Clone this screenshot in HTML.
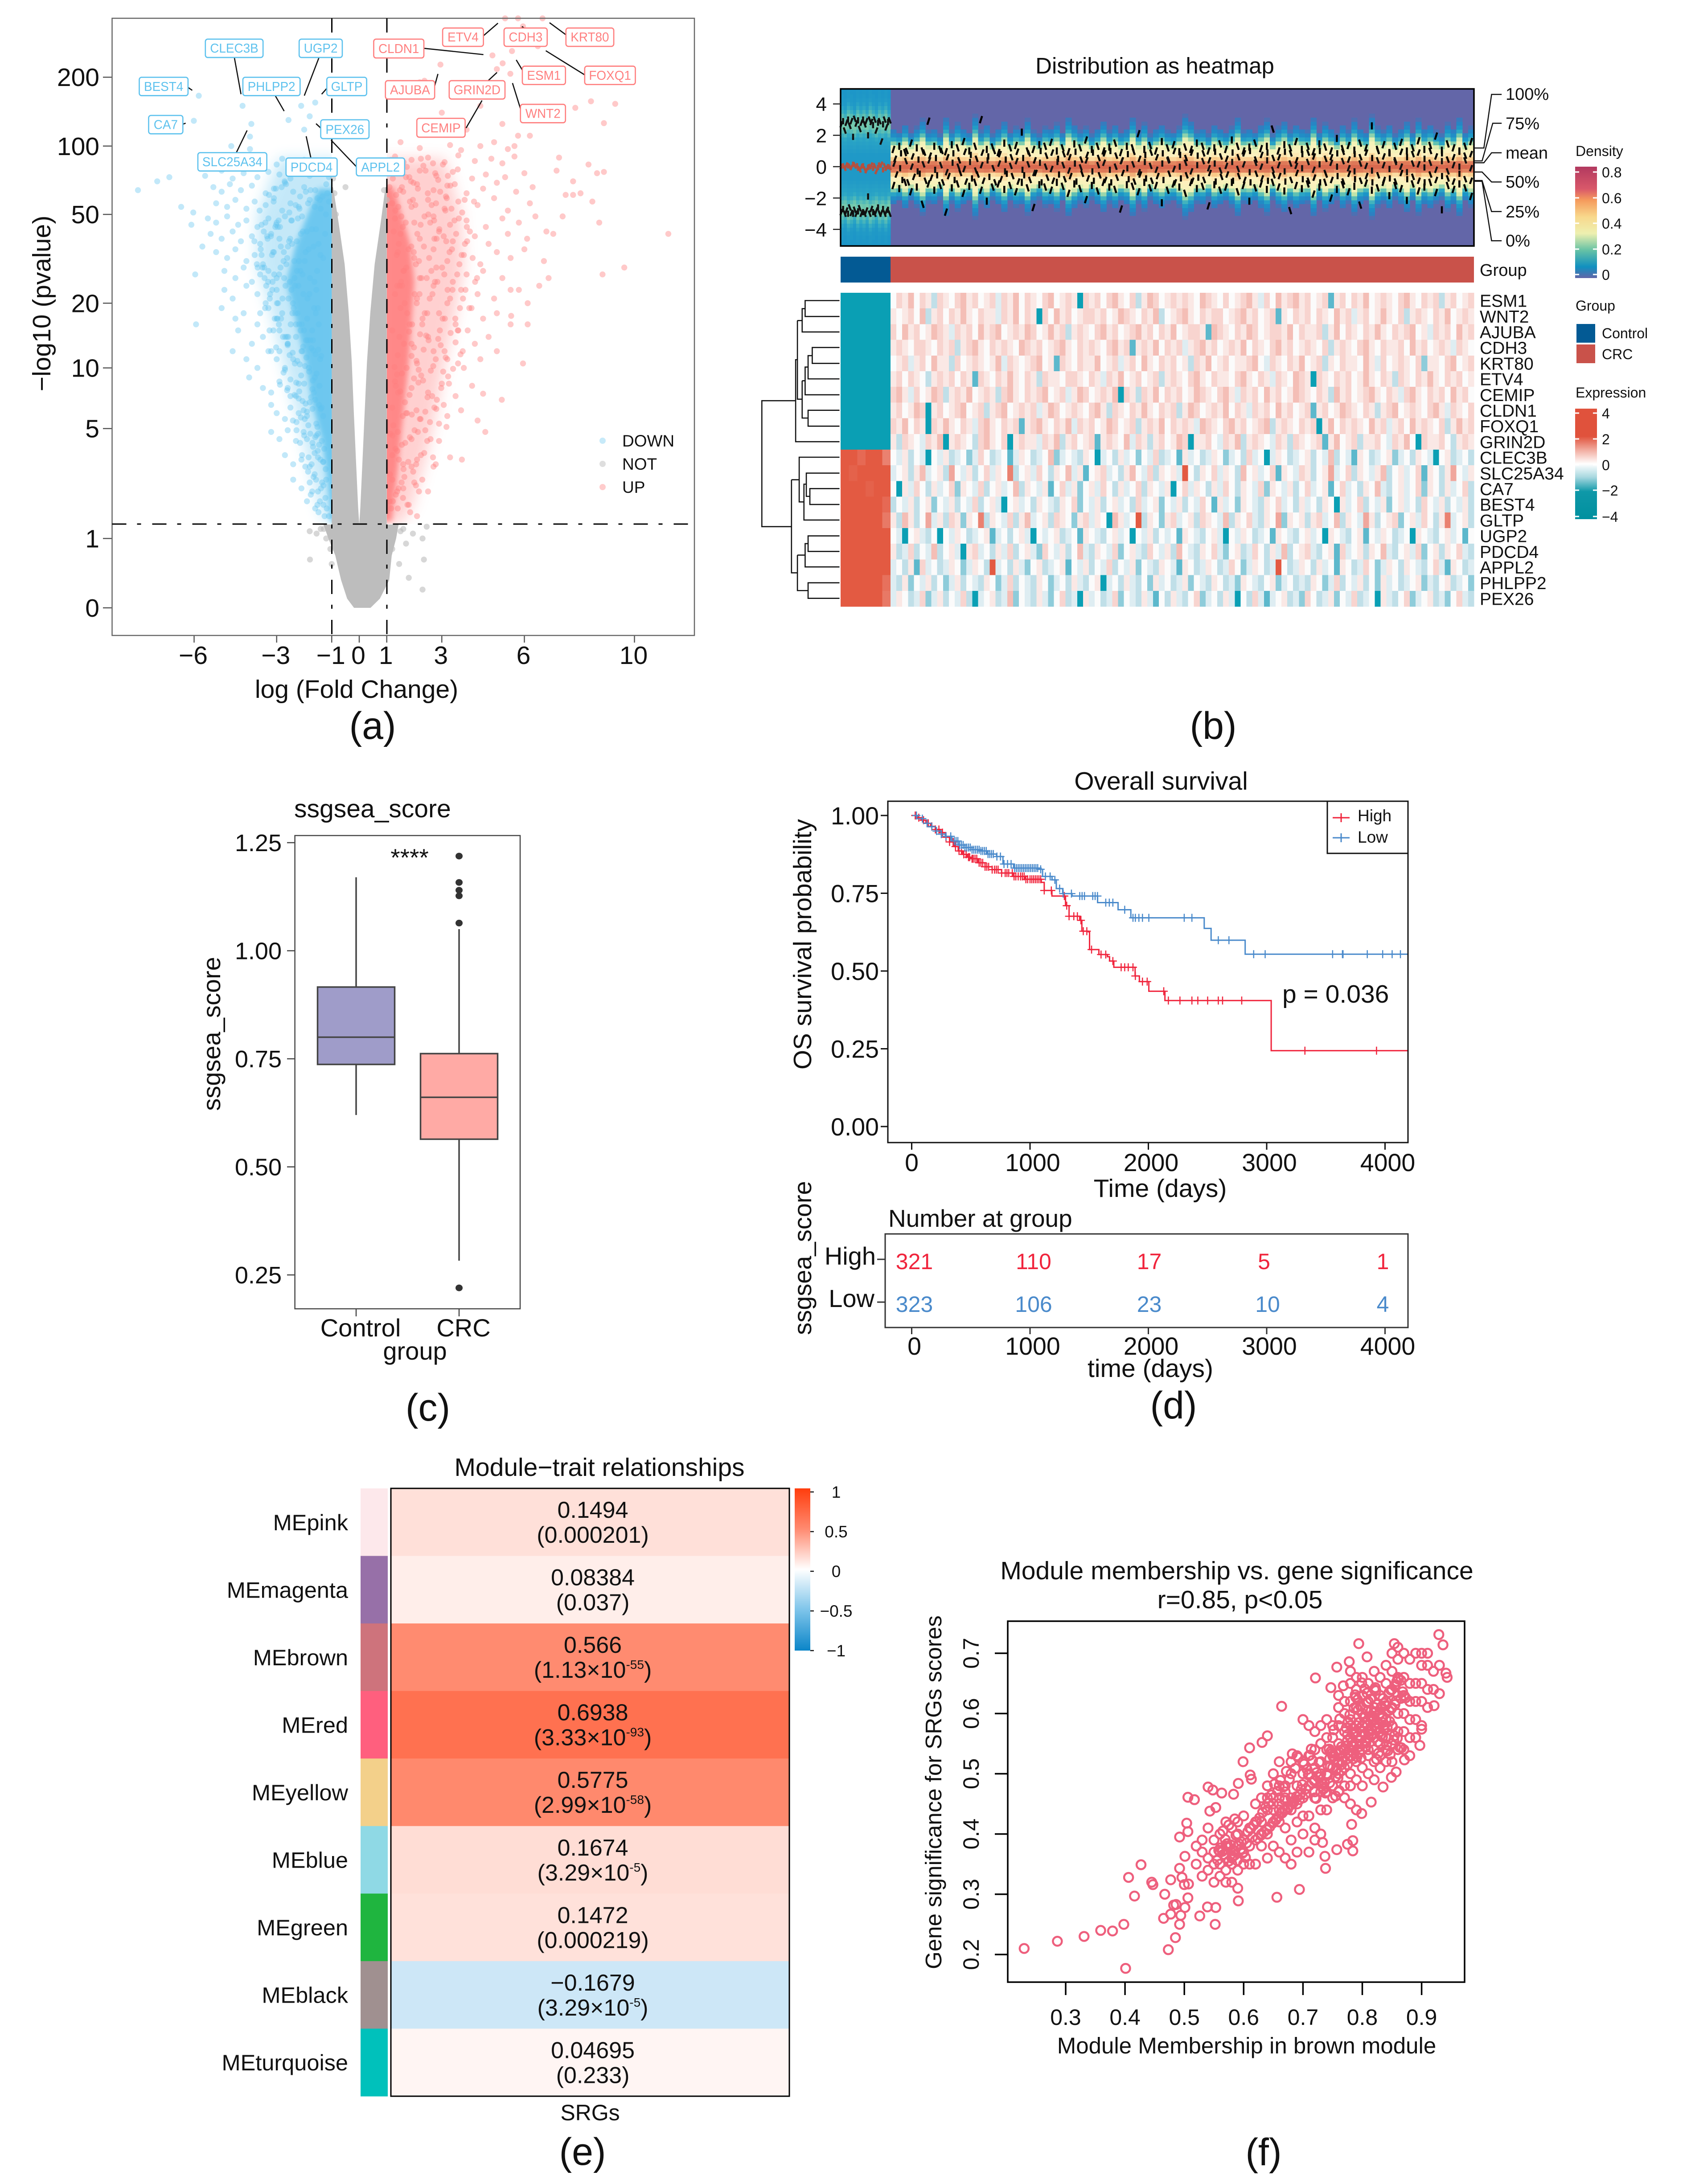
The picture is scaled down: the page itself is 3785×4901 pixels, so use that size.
<!DOCTYPE html>
<html lang="en">
<head>
<meta charset="utf-8">
<title>Multi-panel figure</title>
<style>
html,body{margin:0;padding:0;background:#fff}
svg{display:block}
text{font-family:"Liberation Sans",Arial,sans-serif;fill:#111}
.nss{vector-effect:non-scaling-stroke}
</style>
</head>
<body>
<svg id="fig" xmlns="http://www.w3.org/2000/svg" width="3785" height="4901" viewBox="0 0 3785 4901">
<defs>
  <linearGradient id="densGrad" x1="0" y1="0" x2="0" y2="1">
    <stop offset="0" stop-color="#b2395f"/><stop offset=".2" stop-color="#d9586a"/><stop offset=".3" stop-color="#f59a5c"/><stop offset=".45" stop-color="#f8d88c"/><stop offset=".6" stop-color="#eef0b0"/><stop offset=".75" stop-color="#66c2a5"/><stop offset=".9" stop-color="#1090c0"/><stop offset="1" stop-color="#6366a8"/>
  </linearGradient>
  <linearGradient id="exprGrad" x1="0" y1="0" x2="0" y2="1">
    <stop offset="0" stop-color="#e0523c"/><stop offset=".25" stop-color="#e0523c"/><stop offset=".38" stop-color="#f2b0a4"/><stop offset=".5" stop-color="#ffffff"/><stop offset=".62" stop-color="#a8d8e0"/><stop offset=".75" stop-color="#0f98a8"/><stop offset="1" stop-color="#00909f"/>
  </linearGradient>
  <linearGradient id="corrGrad" x1="0" y1="0" x2="0" y2="1">
    <stop offset="0" stop-color="#ff3d0d"/><stop offset=".25" stop-color="#ff8a70"/><stop offset=".5" stop-color="#ffffff"/><stop offset=".75" stop-color="#7dc4ea"/><stop offset="1" stop-color="#0b85c8"/>
  </linearGradient>
  <filter id="softCore" x="-30%" y="-30%" width="160%" height="160%"><feGaussianBlur stdDeviation="6"/></filter>
  <filter id="softMid" x="-30%" y="-30%" width="160%" height="160%"><feGaussianBlur stdDeviation="16"/></filter>
  <clipPath id="clipDown"><rect x="251.5" y="41" width="493" height="1135"/></clipPath>
  <clipPath id="clipUp"><rect x="868" y="41" width="690" height="1135"/></clipPath>
</defs>
<rect x="0" y="0" width="3785" height="4901" fill="#fff"/>

<!-- PANEL A -->
<g id="panel-a">
  <g id="a-bands-down" clip-path="url(#clipDown)"></g>
  <g id="a-bands-up" clip-path="url(#clipUp)"></g>
  <g id="a-points"></g>
  <g id="a-bands"></g>
  <g id="a-axes"></g>
  <rect x="251.5" y="41" width="1306.5" height="1385" fill="none" stroke="#666" stroke-width="2.5"/>
  <line x1="251.5" y1="1176" x2="1558" y2="1176" stroke="#000" stroke-width="3" stroke-dasharray="32 24 9 25"/>
  <line x1="744.5" y1="41" x2="744.5" y2="1426" stroke="#000" stroke-width="3" stroke-dasharray="32 24 9 25"/>
  <line x1="868" y1="41" x2="868" y2="1426" stroke="#000" stroke-width="3" stroke-dasharray="32 24 9 25"/>
  <text x="800" y="1566" font-size="57" text-anchor="middle">log (Fold Change)</text>
  <text transform="translate(113 681) rotate(-90)" font-size="57" text-anchor="middle">−log10 (pvalue)</text>
  <text x="836" y="1658" font-size="86" text-anchor="middle">(a)</text>
  <g>
    <circle cx="1352" cy="989" r="7" fill="#5ec2ee" opacity=".35"/>
    <circle cx="1352" cy="1041" r="7" fill="#bdbdbd" opacity=".5"/>
    <circle cx="1352" cy="1093" r="7" fill="#ff7f7f" opacity=".4"/>
    <text x="1396" y="1002" font-size="37">DOWN</text>
    <text x="1396" y="1054" font-size="37">NOT</text>
    <text x="1396" y="1106" font-size="37">UP</text>
  </g>
  <g transform="translate(0 0) scale(1.052 1.084)">
    <g stroke="#111" stroke-width="2.6">
      <path class="nss" fill="none" d="M500 120L514 195M680 120L649 198M401 181L410 187M587 198L606 230M697 183L686 195M390 257L396 255M674 256L684 265M504 316L527 270M663 327L653 282M760 345L706 290M904 100L1031 113M1031 74L1062 48M1113 55L1118 58M1207 72L1172 47M927 178L934 153M1040 168L1060 150M1114 145L1101 124M1247 155L1164 105M1110 225L1093 172M994 265L1028 208"/>
    </g>
    <g font-size="26.5" text-anchor="middle">
      <g><rect x="438" y="81" width="123" height="38" rx="5" fill="#fff" stroke="#5ec2ee" stroke-width="2.5"/><text x="499.5" y="109" style="fill:#5ec2ee">CLEC3B</text></g>
      <g><rect x="638" y="81" width="92" height="38" rx="5" fill="#fff" stroke="#5ec2ee" stroke-width="2.5"/><text x="684" y="109" style="fill:#5ec2ee">UGP2</text></g>
      <g><rect x="297" y="160" width="104" height="38" rx="5" fill="#fff" stroke="#5ec2ee" stroke-width="2.5"/><text x="349" y="188" style="fill:#5ec2ee">BEST4</text></g>
      <g><rect x="518" y="160" width="122" height="38" rx="5" fill="#fff" stroke="#5ec2ee" stroke-width="2.5"/><text x="579" y="188" style="fill:#5ec2ee">PHLPP2</text></g>
      <g><rect x="697" y="160" width="85" height="38" rx="5" fill="#fff" stroke="#5ec2ee" stroke-width="2.5"/><text x="739.5" y="188" style="fill:#5ec2ee">GLTP</text></g>
      <g><rect x="317" y="239" width="73" height="38" rx="5" fill="#fff" stroke="#5ec2ee" stroke-width="2.5"/><text x="353.5" y="267" style="fill:#5ec2ee">CA7</text></g>
      <g><rect x="684" y="248" width="103" height="39" rx="5" fill="#fff" stroke="#5ec2ee" stroke-width="2.5"/><text x="735.5" y="277" style="fill:#5ec2ee">PEX26</text></g>
      <g><rect x="422" y="316" width="147" height="38" rx="5" fill="#fff" stroke="#5ec2ee" stroke-width="2.5"/><text x="495.5" y="344" style="fill:#5ec2ee">SLC25A34</text></g>
      <g><rect x="610" y="327" width="109" height="38" rx="5" fill="#fff" stroke="#5ec2ee" stroke-width="2.5"/><text x="664.5" y="355" style="fill:#5ec2ee">PDCD4</text></g>
      <g><rect x="760" y="327" width="103" height="37" rx="5" fill="#fff" stroke="#5ec2ee" stroke-width="2.5"/><text x="811.5" y="355" style="fill:#5ec2ee">APPL2</text></g>
      <g><rect x="797" y="81" width="107" height="39" rx="5" fill="#fff" stroke="#ff7f7f" stroke-width="2.5"/><text x="850.5" y="110" style="fill:#ff7f7f">CLDN1</text></g>
      <g><rect x="944" y="58" width="87" height="38" rx="5" fill="#fff" stroke="#ff7f7f" stroke-width="2.5"/><text x="987.5" y="86" style="fill:#ff7f7f">ETV4</text></g>
      <g><rect x="1075" y="58" width="92" height="38" rx="5" fill="#fff" stroke="#ff7f7f" stroke-width="2.5"/><text x="1121" y="86" style="fill:#ff7f7f">CDH3</text></g>
      <g><rect x="1207" y="58" width="102" height="38" rx="5" fill="#fff" stroke="#ff7f7f" stroke-width="2.5"/><text x="1258" y="86" style="fill:#ff7f7f">KRT80</text></g>
      <g><rect x="822" y="167" width="105" height="38" rx="5" fill="#fff" stroke="#ff7f7f" stroke-width="2.5"/><text x="874.5" y="195" style="fill:#ff7f7f">AJUBA</text></g>
      <g><rect x="958" y="167" width="119" height="38" rx="5" fill="#fff" stroke="#ff7f7f" stroke-width="2.5"/><text x="1017.5" y="195" style="fill:#ff7f7f">GRIN2D</text></g>
      <g><rect x="1114" y="137" width="92" height="38" rx="5" fill="#fff" stroke="#ff7f7f" stroke-width="2.5"/><text x="1160" y="165" style="fill:#ff7f7f">ESM1</text></g>
      <g><rect x="1247" y="137" width="108" height="38" rx="5" fill="#fff" stroke="#ff7f7f" stroke-width="2.5"/><text x="1301" y="165" style="fill:#ff7f7f">FOXQ1</text></g>
      <g><rect x="1110" y="216" width="96" height="38" rx="5" fill="#fff" stroke="#ff7f7f" stroke-width="2.5"/><text x="1158" y="244" style="fill:#ff7f7f">WNT2</text></g>
      <g><rect x="889" y="245" width="103" height="39" rx="5" fill="#fff" stroke="#ff7f7f" stroke-width="2.5"/><text x="940.5" y="274" style="fill:#ff7f7f">CEMIP</text></g>
    </g>
  </g>
</g>

<!-- PANEL B -->
<g id="panel-b">
  <text x="2591" y="165" font-size="51" text-anchor="middle">Distribution as heatmap</text>
  <rect x="1886" y="199.5" width="1421" height="352.5" fill="#6366a8"/>
  <g id="b-density"></g>
  <g id="b-dashes"></g>
  <rect x="1886" y="199.5" width="1421" height="352.5" fill="none" stroke="#000" stroke-width="3.5"/>
  <g id="b-density-axis"></g>
  <g transform="translate(1700 100) scale(1.33 .829)">
    <path class="nss" fill="none" stroke="#111" stroke-width="2.5" d="M1208 280L1225 280L1238 135L1255 135M1208 315L1222 315L1240 213L1255 213M1208 320L1225 320L1238 293L1255 293M1208 345L1222 345L1238 372L1255 372M1208 368L1222 368L1238 452L1255 452M1208 370L1222 370L1238 531L1255 531"/>
  </g>
  <g font-size="38">
    <text x="3378" y="224">100%</text>
    <text x="3378" y="290">75%</text>
    <text x="3378" y="356">mean</text>
    <text x="3378" y="421">50%</text>
    <text x="3378" y="488">25%</text>
    <text x="3378" y="553">0%</text>
  </g>
  <rect x="1886" y="576" width="112" height="58" fill="#035a94"/>
  <rect x="1998" y="576" width="1309" height="58" fill="#c9524a"/>
  <text x="3320" y="619" font-size="38">Group</text>
  <g id="b-heat"></g>
  <g id="b-genes"></g>
  <g transform="translate(1700 100) scale(1.33 .829)">
    <path class="nss" fill="none" stroke="#111" stroke-width="2.6" d="M138 693H80V736H138M80 715H75V778H138M75 747H67M138 820H92V863H138M92 842H85V905H138M85 873H80V948H138M80 910H75M138 990H85V1033H138M85 1011H75V910M75 960H67V747M67 853H64V1075H138M64 964H7V1305H57M138 1202H88V1245H138M88 1223H82V1160H138M82 1190H78V1287H138M78 1238H70V1117H138M70 1178H57M138 1330H85V1372H138M85 1351H80V1414H138M80 1382H67M138 1457H85V1499H138M85 1478H67V1382M67 1430H57V1178"/>
  </g>
  <g font-size="32">
    <text x="3535" y="350">Density</text>
    <rect x="3534" y="374" width="49" height="250" fill="url(#densGrad)"/>
    <g stroke="#fff" stroke-width="3"><path d="M3534 386h9M3574 386h9M3534 444h9M3574 444h9M3534 501h9M3574 501h9M3534 559h9M3574 559h9M3534 616h9M3574 616h9"/></g>
    <text x="3594" y="398">0.8</text>
    <text x="3594" y="456">0.6</text>
    <text x="3594" y="513">0.4</text>
    <text x="3594" y="571">0.2</text>
    <text x="3594" y="628">0</text>
    <text x="3535" y="697">Group</text>
    <rect x="3537" y="727" width="42" height="42" fill="#035a94"/>
    <rect x="3537" y="773" width="42" height="42" fill="#c9524a"/>
    <text x="3594" y="759">Control</text>
    <text x="3594" y="806">CRC</text>
    <text x="3535" y="892">Expression</text>
    <rect x="3534" y="917" width="49" height="248" fill="url(#exprGrad)"/>
    <g stroke="#fff" stroke-width="3"><path d="M3534 927h9M3574 927h9M3534 985h9M3574 985h9M3534 1043h9M3574 1043h9M3534 1100h9M3574 1100h9M3534 1159h9M3574 1159h9"/></g>
    <text x="3594" y="939">4</text>
    <text x="3594" y="997">2</text>
    <text x="3594" y="1055">0</text>
    <text x="3594" y="1112">−2</text>
    <text x="3594" y="1171">−4</text>
  </g>
  <text x="2722" y="1658" font-size="86" text-anchor="middle">(b)</text>
</g>

<!-- PANEL C -->
<g id="panel-c">
  <text x="660" y="1834" font-size="57">ssgsea_score</text>
  <g id="c-boxes"></g>
  <rect x="661.6" y="1875" width="505.4" height="1062" fill="none" stroke="#444" stroke-width="2.5"/>
  <g id="c-axes"></g>
  <text x="919" y="1943" font-size="55" text-anchor="middle">****</text>
  <text transform="translate(494 2320) rotate(-90)" font-size="56" text-anchor="middle">ssgsea_score</text>
  <text x="931" y="3051" font-size="56" text-anchor="middle">group</text>
  <text x="960" y="3188" font-size="86" text-anchor="middle">(c)</text>
</g>

<!-- PANEL D -->
<g id="panel-d">
  <text x="2605" y="1772" font-size="57" text-anchor="middle">Overall survival</text>
  <g id="d-curves"></g>
  <rect x="1992" y="1798" width="1167" height="766" fill="none" stroke="#111" stroke-width="3"/>
  <g id="d-axes"></g>
  <g>
    <rect x="2978" y="1798" width="181" height="117" fill="#fff" stroke="#111" stroke-width="3"/>
    <path d="M2990 1835h38M3009 1825v20" stroke="#f0243c" stroke-width="3" fill="none"/>
    <path d="M2990 1880h38M3009 1870v20" stroke="#4a8acb" stroke-width="3" fill="none"/>
    <text x="3046" y="1843" font-size="37">High</text>
    <text x="3046" y="1891" font-size="37">Low</text>
  </g>
  <text x="2877" y="2250" font-size="57">p = 0.036</text>
  <text x="2603" y="2686" font-size="57" text-anchor="middle">Time (days)</text>
  <text transform="translate(1820 2119) rotate(-90)" font-size="56.5" text-anchor="middle">OS survival probability</text>
  <text x="1993" y="2753" font-size="55">Number at group</text>
  <rect x="1986" y="2769" width="1173" height="210" fill="none" stroke="#333" stroke-width="3"/>
  <g id="d-risk"></g>
  <text x="1965" y="2838" font-size="56" text-anchor="end">High</text>
  <text x="1962" y="2933" font-size="56" text-anchor="end">Low</text>
  <path d="M1968 2826h18M1968 2922h18" stroke="#333" stroke-width="3"/>
  <text transform="translate(1820 2823) rotate(-90)" font-size="56" text-anchor="middle">ssgsea_score</text>
  <text x="2581" y="3090" font-size="57" text-anchor="middle">time (days)</text>
  <text x="2633" y="3183" font-size="86" text-anchor="middle">(d)</text>
</g>

<!-- PANEL E -->
<g id="panel-e">
  <text x="1345" y="3312" font-size="57" text-anchor="middle">Module−trait relationships</text>
  <g id="e-cells"></g>
  <rect x="877" y="3340" width="894" height="1364" fill="none" stroke="#000" stroke-width="3"/>
  <rect x="1783" y="3340" width="35" height="364" fill="url(#corrGrad)"/>
  <g id="e-bar"></g>
  <text x="1324" y="4758" font-size="50" text-anchor="middle">SRGs</text>
  <text x="1307" y="4858" font-size="86" text-anchor="middle">(e)</text>
</g>

<!-- PANEL F -->
<g id="panel-f">
  <text x="2775" y="3544" font-size="57" text-anchor="middle">Module membership vs. gene significance</text>
  <text x="2782" y="3609" font-size="57" text-anchor="middle">r=0.85, p&lt;0.05</text>
  <g id="f-points"></g>
  <rect x="2261" y="3638" width="1025" height="810" fill="none" stroke="#000" stroke-width="3.5"/>
  <g id="f-axes"></g>
  <text x="2797" y="4608" font-size="51" text-anchor="middle">Module Membership in brown module</text>
  <text transform="translate(2112 4022) rotate(-90)" font-size="51" text-anchor="middle">Gene significance for SRGs scores</text>
  <text x="2835" y="4859" font-size="86" text-anchor="middle">(f)</text>
</g>
</svg>

<script>
/* ---------- panel a data ---------- */
const volcanoXTicks=[-6,-3,-1,0,1,3,6,10];
const volcanoYTicks=[0,1,5,10,20,50,100,200];
const downFC=[-8.04,-7.34,-6.9,-6.47,-6.03,-6.1,-5.7,-5.96,-5.93,-5.83,-6.01,-4.24,-3.92,-2.57,-2.11,-1.6,-1.8,-2.0,-4.65,-3.97,-3.97,
-3.5,-3.0,-2.8,-2.4,-2.0,-1.6,-1.3,-5.6,-5.0,-4.6,-4.2,-3.7,-3.3,-2.9,-2.5,-2.2,-1.8,-1.4,-1.1,-5.3,-5.0,-4.7,-4.3,-3.9,-3.4,-3.1,-2.7,-2.4,-2,-1.6,-1.2,
-5.2,-4.8,-4.5,-4.1,-3.8,-3.4,-3.1,-2.8,-2.5,-2.2,-1.8,-1.4,-1.1,-5.5,-5.2,-4.8,-4.4,-4.1,-3.7,-3.3,-3.0,-2.7,-5.4,-5.0,-4.6,-4.3,-3.9,-3.6,-3.2,-2.9,
-5.2,-4.8,-4.5,-4.1,-3.8,-3.5,-3.1,-4.9,-4.5,-4.2,-3.9,-3.6,-3.3,-3,-4.9,-4.6,-4.1,-3.7,-3.4,-3,-5,-4.5,-4.2,-3.7,-3.3,-3.0,-2.8,
-4.4,-3.9,-3.5,-3.2,-2.9,-2.6,-2.3,-4.6,-4.1,-3.7,-3.3,-3,-2.7,-2.4,-2.1,-4,-3.5,-3.2,-2.9,-2.6,-2.3,-2,-3.2,-3,-2.7,-2.5,-2.2,-1.9,-1.7,
-3.2,-2.9,-2.6,-2.3,-2,-1.7,-1.5,-2.7,-2.4,-2.1,-1.8,-1.5,-1.3,-2.4,-2.1,-1.8,-1.5,-1.2,-1.9,-1.6,-1.3,-1.1,
-3.05,-2.85,-2.65,-3.35,-3.55,-2.35,-2.95,-3.15,-2.45,-2.75,-2.55,-3.25,-3.45,-2.15,-2.05,-1.95,-2.3,-2.6,-2.9,-3.6,
-3.62,-3.28,-2.93,-2.66,-2.31,-2.08,-1.77,-1.43,-1.21,-3.41,-3.11,-2.82,-2.54,-2.23,-1.94,-1.62,-1.33,-3.55,-2.71,-2.17,-1.52,-2.47,-3.03,-1.86,-1.16,
-3.81,-3.47,-3.17,-2.88,-2.59,-2.36,-2.12,-1.84,-1.57,-1.31,-3.72,-3.33,-3.02,-2.74,-2.44,-2.19,-1.91,-1.66,-1.41,-3.58,-3.21,-2.96,-2.62,-2.27,-1.98,-1.72,-1.48,-1.24,-3.13,-2.51,
-3.69,-3.38,-3.09,-2.79,-2.52,-2.26,-2.03,-1.79,-1.56,-3.52,-3.24,-2.91,-2.68,-2.41,-2.14,-1.88,-1.63,-3.44,-3.16,-2.86,-2.57,-2.33,-2.06,-1.81,-1.53,-3.31,-2.99,-2.73,-2.46,-2.21,
-3.42,-3.12,-2.84,-2.58,-2.32,-2.09,-1.87,-1.64,-3.26,-2.97,-2.69,-2.43,-2.18,-1.93,-1.71,-1.51,-3.07,-2.77,-2.49,-2.24,-2.01,-1.78,-1.58,-2.92,-2.63,-2.38,-2.13,-1.89,-1.68,-1.47,
-3.02,-2.75,-2.53,-2.29,-2.07,-1.83,-1.61,-1.42,-2.88,-2.6,-2.34,-2.11,-1.92,-1.69,-1.49,-2.7,-2.42,-2.2,-1.97,-1.74,-1.55,-1.38,-2.5,-2.25,-2.04,-1.82,-1.59,-1.44,-2.16,-1.67,
-2.62,-2.41,-2.2,-2.02,-1.85,-1.65,-1.46,-1.31,-2.5,-2.28,-2.06,-1.9,-1.7,-1.52,-1.36,-2.35,-2.12,-1.95,-1.75,-1.56,-1.4,-2.18,-1.98,-1.8,-1.6,
-2.28,-2.08,-1.9,-1.73,-1.56,-1.41,-1.27,-2.15,-1.96,-1.78,-1.62,-1.46,-1.32,-2.02,-1.84,-1.68,-1.51,-1.36,-1.22,-1.6,
-1.86,-1.71,-1.57,-1.43,-1.3,-1.18,-1.76,-1.62,-1.48,-1.35,-1.23,-1.66,-1.52,-1.39,-1.26];
const downP=[64,70,73,54,51,45,36,27,16,166,129,150,125,130,150,155,135,118,100,110,97,
86,83,88,84,87,85,82,74,78,72,76,73,77,75,72,78,74,76,73,66,63,68,64,67,62,65,69,63,66,64,68,
56,54,58,53,57,55,59,52,56,54,58,53,57,48,46,49,45,47,44,48,46,49,41,39,42,38,40,37,41,39,
34,32,35,31,33,30,34,28,26,29,25,27,28,26,23,21,24,22,20,23,19,17,18,16,19,17,18,
15,13,14,12,15,13,14,12,11,10,12,11,10,11,12,9,8,7.6,8.6,8,7.3,8.4,6.6,6,5.6,6.4,6,5.8,6.3,
4.8,4.4,4.9,4.3,4.6,4.2,4.7,3.6,3.2,3.4,3.1,3.5,3.3,2.6,2.3,2.5,2.2,2.6,1.9,1.7,1.8,1.5,
44,36,30,40,33,26,20,25,47,31,38,21,29,60,42,34,16,13,12,18,
52,61,47,68,55,49,64,58,50,46,57,66,51,48,63,54,60,45,70,53,59,47,65,56,62,
38,42,33,44,36,31,41,35,43,32,30,39,45,34,37,31,42,36,33,35,40,44,32,38,31,43,37,41,34,39,
29,24,27,21,25,28,22,26,23,29,22,27,24,20,28,21,25,26,23,29,21,24,27,22,28,25,20,26,23,24,
19,15,17,14,18,16,13.5,19,15,17,14,18,16,13.5,15,19,17,14,16,18,15,13.5,18,16,14,19,15,17,13.5,16,
12.5,9.5,11.5,8.5,12,10,9,11,8.3,12.8,10.5,9.2,11.2,8.7,12.2,9.8,11.8,8.4,10.2,12.4,9.4,11.4,8.8,10.8,12.6,9.6,11.6,8.2,10.4,12.1,
7.8,5.5,7.1,6.2,5.2,7.6,6.6,5.8,7.3,5.4,6.9,6.1,7.9,5.1,6.4,7.4,5.7,6.7,7.2,5.3,6.3,7.7,5.6,6.8,7,
4.9,3.6,4.4,3.2,4.6,3.4,3.9,4.2,3.1,4.7,3.7,4.1,3.3,4.8,3.5,4,3.8,4.3,3,4.5,
2.9,2.2,2.6,1.9,2.4,1.7,2.1,2.8,1.6,2.5,2,2.7,1.8,2.3,1.5];
const upFC=[5.3,5.77,6.66,5.95,4.84,5.21,5.0,5.55,6.49,2.95,5.49,2.37,8.42,9.3,7.85,8.89,6.2,5.77,5.64,5.64,7.26,7.17,8.33,8.64,8.89,7.77,7.5,7.77,8.04,8.47,8.72,11.23,9.63,8.84,6.88,6.54,5.95,5.18,4.58,7.39,7.05,6.71,6.12,6.12,5.52,3.73,
2.2,3.0,4.4,5.2,4.9,3.9,1.5,2.2,3.3,3.7,4.4,4.9,5.4,1.3,1.9,2.5,3.1,3.6,4.2,4.8,5.2,1.2,1.7,2.2,2.8,3.4,4.1,4.6,5.3,6,1.1,1.6,2.1,2.7,3.2,3.9,4.5,5,5.7,6.3,
1.2,1.9,2.5,3.1,3.6,4.3,4.9,5.4,6.2,1.3,2,2.7,3.3,3.9,4.6,5.2,5.8,6.4,1.5,2.2,2.9,3.4,4.2,4.7,5.4,6.1,6.8,1.4,2,2.7,3.2,3.8,4.4,5,5.5,6,
1.6,2.2,2.8,3.4,3.9,4.5,5.2,5.8,1.3,2.1,2.7,3.2,3.7,4.3,4.9,5.5,1.5,2.3,2.9,3.5,4,4.5,5,5.5,1.2,1.9,2.5,3.1,3.6,4.2,4.7,1.4,2.1,2.7,3.2,3.8,4.4,5,
1.3,1.9,2.5,3,3.5,4.1,4.5,1.2,1.7,2.2,2.8,3.2,3.7,4.3,1.4,1.9,2.4,2.9,1.2,1.6,2.1,2.7,3.3,1.2,1.6,2,2.5,1.1,1.4,1.8,2.1,
1.22,1.48,1.73,1.97,2.24,2.49,2.76,3.04,3.31,3.58,1.34,1.61,1.88,2.13,2.41,2.68,2.94,3.22,3.47,1.15,1.55,1.82,2.33,2.87,3.15,
1.31,1.58,1.84,2.11,2.37,2.63,2.91,3.18,3.46,3.74,4.02,1.42,1.69,1.95,2.23,2.51,2.79,3.07,3.35,3.62,3.91,4.17,1.25,1.53,2.04,2.58,3.13,3.52,3.83,2.72,
1.44,1.71,1.98,2.26,2.54,2.81,3.09,3.37,3.64,3.92,4.21,1.36,1.63,1.89,2.17,2.45,2.73,3.01,3.28,3.56,3.84,4.12,1.52,1.79,2.06,2.62,3.16,3.72,4.28,2.35,
1.47,1.74,2.01,2.29,2.56,2.84,3.11,3.39,3.66,3.94,1.38,1.65,1.92,2.19,2.47,2.75,3.03,3.3,3.58,3.86,4.08,1.56,1.83,2.09,2.38,2.66,2.93,3.21,3.49,3.77,
1.46,1.72,1.99,2.25,2.52,2.78,3.05,3.32,3.59,3.76,1.37,1.63,1.9,2.16,2.43,2.69,2.96,3.23,3.5,3.68,1.55,1.81,2.08,2.34,2.6,2.87,3.14,3.41,2.21,1.28,
1.33,1.58,1.83,2.08,2.32,2.57,2.82,3.07,3.26,1.24,1.49,1.74,1.99,2.23,2.48,2.73,2.98,3.17,1.41,1.66,1.91,2.15,2.4,2.65,2.9,
1.21,1.44,1.67,1.9,2.13,2.36,2.59,2.78,1.32,1.55,1.78,2.01,2.24,2.47,2.68,1.13,1.38,1.61,1.84,2.07,
1.12,1.33,1.54,1.75,1.96,2.17,2.29,1.22,1.43,1.64,1.85,2.06,1.16,1.38,1.59];
const upP=[361,361,361,333,249,230,217,260,273,227,207,193,157,153,147,126,111,111,100,90,89,78,83,76,77,70,61,61,62,57,46,41,29,27,26,24,10.5,7,4.8,49,41,31,20,16,17.5,3.4,
190,140,150,125,165,118,104,98,101,96,100,104,97,90,87,89,85,91,86,88,84,76,73,78,74,77,72,75,73,76,66,63,68,64,67,62,65,69,63,66,
56,54,58,53,57,55,59,52,56,48,46,49,45,47,44,48,46,49,41,39,42,38,40,37,41,39,42,34,32,35,31,33,30,34,32,35,
28,26,29,25,27,28,26,23,22,21,24,20,23,22,21,23,19,17,18,16,19,17,18,16,15,13,14,12,15,13,14,11.5,10.5,12,11,10,11,12,
8.6,8,7.6,8.4,7.3,8.2,7.5,6.4,6,5.6,6.3,5.8,6.2,5.5,4.8,4.4,4.9,4.3,3.6,3.2,3.4,3.1,3.5,2.6,2.3,2.5,2.2,1.9,1.7,1.8,1.5,
72,64,81,69,88,62,76,83,67,79,61,85,70,65,78,84,63,74,68,87,66,73,82,71,60,
52,44,57,41,49,55,43,59,47,51,42,54,46,58,45,50,56,40,53,48,44,57,42,49,55,46,52,41,58,47,
37,29,34,26,32,39,27,35,30,38,25,33,28,36,31,26,39,29,34,27,37,32,25,35,30,28,38,33,26,36,
24,18,22,16,21,25,17,23,19,15,24,20,16,22,18,25,17,21,15,23,19,24,16,20,18,22,15,23,17,21,
14,10,12.5,9.2,13.5,11,9.6,14.6,10.5,12,9.3,13,11.4,9.8,14.2,10.2,12.8,9.1,13.2,11.6,9.4,14.8,10.8,12.2,9.7,13.7,11.2,9.9,14.4,10.1,
8.2,5.8,7.4,6.2,8.7,5.4,7,6.6,8.4,5.2,7.7,6,8.9,5.6,7.2,6.4,8,5.1,7.6,6.8,5.9,8.5,6.1,7.3,5.3,
4.6,3.4,4.2,3.1,4.8,3.7,4.4,3.2,3.9,4.1,3.3,4.9,3.6,4.3,3.5,4.7,3.8,3,4.5,3.2,
2.8,2.1,2.5,1.8,2.9,2.2,2.6,1.9,2.3,2.7,1.6,2.4,1.7,2.2,2];
const notFC=[-1.79,-1.29,-0.9,-0.5,-0.85,-0.95,-1.8,-0.9,1.5,2.3,2.35,2.45,2.3,1.8,1.45,1.2,-1.2,-1.0,1.0,0.9,-1.4,-1.55,1.6,1.7,1.95,-1.05];
const notP=[0.62,1.2,62,66,50,72,1.15,0.95,1.15,0.2,0.62,1.25,1.0,0.35,0.55,0.8,1.0,0.55,58,64,1.2,1.1,1.2,0.9,1.1,0.8];
const grayLevels=[66,46,30,18,10.6,6.2,3.4,1.73,1.3];
const grayLeftOuter=[-1,-1,-1,-1,-1,-1,-1,-1,-1];
const grayLeftInner=[-0.95,-0.75,-0.53,-0.38,-0.27,-0.2,-0.12,-0.04,0];
const grayRightInner=[0.95,0.78,0.56,0.4,0.28,0.2,0.12,0.04,0];
const grayRightOuter=[1,1,1,1,1,1,1,1,1];
const blobLevels=[1.3,1,0.687,0.32,0.096,0];
const blobLeft=[-1.3,-1.12,-0.87,-0.66,-0.44,-0.19];
const blobRight=[1.43,1.34,1.18,1.09,0.75,0.41];
const downCoreLevels=[65,37,25,16.4,10.7,6.8,4.3,2.5,1.37];
const downCoreLeft=[-1.5,-2.3,-2.65,-2.3,-1.95,-1.72,-1.35,-1.15,-1.05];
const downMidLevels=[88,50,30,18,10.6,6.2,3.4,1.73,1.3];
const downMidLeft=[-2.9,-3.7,-3.7,-3.2,-2.75,-2.3,-1.85,-1.45,-1.15];
const upCoreLevels=[66,37,25,16.4,10.7,6.8,4.3,2.5,1.37];
const upCoreRight=[1.25,1.85,2,1.9,1.8,1.65,1.5,1.35,1.18];
const upMidLevels=[88,50,30,18,10.6,6.2,3.4,1.73,1.3];
const upMidRight=[3.1,3.7,3.8,3.5,3.1,2.8,2.4,1.9,1.5];

/* ---------- panel b data ---------- */
const geneNames=['ESM1','WNT2','AJUBA','CDH3','KRT80','ETV4','CEMIP','CLDN1','FOXQ1','GRIN2D','CLEC3B','SLC25A34','CA7','BEST4','GLTP','UGP2','PDCD4','APPL2','PHLPP2','PEX26'];
const densityYTicks=[4,2,0,-2,-4];
const densityBins=[-5,-4.75,-4.5,-4.25,-4,-3.75,-3.5,-3.25,-3,-2.75,-2.5,-2.25,-2,-1.75,-1.5,-1.25,-1,-0.75,-0.5,-0.25,0,0.25,0.5,0.75,1,1.25,1.5,1.75,2,2.25,2.5,2.75,3,3.25,3.5,3.75,4,4.25,4.5,4.75,5];
const crcProfile=[0.62,0.6,0.5,0.42,0.37,0.3,0.14,0.05,0.015,0.004,0];
const controlProfile=[0.03,0.03,0.03,0.03,0.035,0.04,0.045,0.05,0.07,0.1,0.125,0.13,0.125,0.1,0.07,0.05,0.035,0.03,0.03,0.025,0.025];
const crcSpread=[1,.92,1.12,.88,1.05,1.25,.95,1,.85,1.3,.95,1.15,1,.9,1.35,.95,1.1,.85,1,1.2,.9,1.05,1,1.25,.95,.85,1.05,1,1.15,.9,1.3,1.1,.95,1.05,.85,1,1.2,.95,1.1,.9,1,1.3,.95,1.15,.85,1,1.1,.95,.9,1.05,1.35,1.2,.95,1,.85,1.1,1,.9,1.05,1.3,.95,1,.9,1.1,1.25,.85,1.05,1.2,.95,1.1,1,.95,1.3,.9,1.15,1,.85,1.1,.95,1.25,1,.9,1.35,1.05,.95,1.1,.85,1,1.2,.9,1.25,1,1.1,.95,.85,1.15,1,1.3,.9,1.05];
const controlSpread=[1,.94,1.06,1,.92,1.05,.97,1.03,.95,1.07,1,.93,1.04,.98,1.06,.94];
const densityColorValues=[0,0.004,0.02,0.06,0.12,0.2,0.3,0.42,0.52,0.62,0.8];
const densityColorHex=['#6366a8','#2d7fc2','#1a93c8','#2fa9c4','#6cc6ae','#bfe3ab','#f1f2b6','#fdf1bf','#f9c987','#d9694f','#b2395f'];
const crcUpperQ=[1.1,1.3,.9,1.5,1.2,1,2.9,1.3,1.1,.95,1.4,1.2,1.6,1,1.3,3,1.1,1.25,.9,1.5,1.2,1.35,2.2,1,1.1,1.4,1.3,1.55,1,1.2,.95,1.45,1.2,1.7,1.1,1.3,1,1.25,1.5,.9,1.3,1.2,2.1,1.1,1.35,1,1.6,1.2,1.4,.95,1.25,1.1,1.5,1.3,1,1.2,1.45,1.1,1.7,1.3,1,1.25,1.5,1.15,1.3,2.4,1,1.4,1.2,1.6,1.1,1.3,.95,1.45,1.25,1,1.8,1.15,1.35,1.05,1.5,1.2,2.6,1.1,1.4,.9,1.3,1.55,1,1.2,1.65,1.1,1.35,1.95,1.05,1.45,1.2,1,1.3,1.6];
const crcUpperQ2=[.5,.85,1,.65,.45,.9,.7,.55,1,.6,.85,.4,.95,.75,.5,.9,.65,1,.8,.45,.6,.95,.55,.85,.4,1,.7,.9,.5,.8,.6,.95,.45,.75,.9,.55,.85,1,.7,.4,.8,.95,.5,.75,.9,.6,.85,.45,1,.75,.55,.9,.7,.85,.4,.95,.65,.5,.9,.6,.85,1,.45,.75,.9,.55,.6,.95,.85,.4,.8,.9,.65,1,.5,.6,.85,.95,.45,.8,.6,.9,.55,1,.65,.85,.4,.95,.6,.8,.9,.5,1,.65,.85,.45,.6,.95,.7,.8];
const crcMidQ=[.2,-.1,.35,0,-.3,.15,.4,-.2,.1,-.35,.25,0,-.15,.3,-.25,.1,.4,-.1,.2,-.3,.05,.35,-.2,.15,-.4,.25,0,-.15,.3,.1,-.25,.2,-.05,.4,-.3,.1,.25,-.2,0,.35,-.1,.15,-.35,.3,.05,-.2,.2,.4,-.15,0,.25,-.3,.1,.35,-.1,.2,-.25,.05,.3,-.15,.15,-.35,.25,0,.4,-.2,.1,-.3,.2,.05,-.1,.3,-.2,.15,-.4,.25,0,.35,-.1,-.3,.2,.05,-.25,.4,.1,-.15,.3,0,-.35,.2,.15,-.05,.25,-.2,.35,-.3,.1,0,.4,-.1];
const crcLowerQ2=[-.5,-.85,-1,-.65,-.45,-.9,-.7,-.55,-1,-.6,-.85,-.4,-.95,-.75,-.5,-.9,-.65,-1,-.8,-.45,-.6,-.95,-.55,-.85,-.4,-1,-.7,-.9,-.5,-.8,-.6,-.95,-.45,-.75,-.9,-.55,-.85,-1,-.7,-.4,-.8,-.95,-.5,-.75,-.9,-.6,-.85,-.45,-1,-.75,-.55,-.9,-.7,-.85,-.4,-.95,-.65,-.5,-.9,-.6,-.85,-1,-.45,-.75,-.9,-.55,-.6,-.95,-.85,-.4,-.8,-.9,-.7,-1,-.5,-.85,-.6,-.95,-.45,-.8,-.9,-.6,-1,-.55,-.85,-.75,-.95,-.4,-.8,-.65,-.9,-1,-.5,-.85,-.6,-.75,-.95,-.45,-.8,-.9];
const crcLowerQ=[-1.2,-1.4,-1,-1.6,-1.3,-2.4,-1.1,-1.5,-1.2,-2.9,-1.35,-1.1,-1.7,-1.25,-1,-1.5,-2.2,-1.3,-1.1,-1.45,-1.2,-1.6,-1,-1.35,-2.6,-1.15,-1.3,-1.5,-1,-1.25,-1.7,-1.1,-1.4,-2.1,-1.2,-1.55,-1,-1.3,-1.45,-2.7,-1.15,-1.25,-1.6,-1,-1.35,-1.2,-2.3,-1.5,-1.1,-1.3,-1.7,-1,-1.4,-1.25,-2.5,-1.15,-1.5,-1.3,-1,-1.6,-1.2,-2.2,-1.35,-1.1,-1.45,-1,-1.3,-1.55,-2.8,-1.2,-1.4,-1.1,-1.75,-1.3,-1,-2,-1.45,-1.15,-1.6,-1.25,-2.45,-1.05,-1.5,-1.35,-1,-1.85,-1.2,-1.4,-2.15,-1.1,-1.55,-1.3,-1,-1.65,-2.75,-1.2,-1.45,-1.1,-1.35,-1.9];
const controlUpperQ=[2.7,2.9,2.3,2.8,3,2.6,2.9,1.9,3.05,2.75,2.95,2.4,2.8,3,2.7,2.9,2,3,2.85,2.65,3,2.3,2.8,2.9,1.6,2.7,3,2.5,2.85,2.95];
const controlLowerQ=[-2.9,-2.7,-3,-2.8,-3,-2.6,-2.95,-3,-2.75,-3,-2.85,-2.65,-3,-2.9,-3,-2.8,-1.9,-3,-2.7,-2.9,-3,-2.8,-2.6,-3,-2.95,-2.7,-3,-2.85,-2.75,-3];
const controlMean=[0,.05,-.1,.1,.05,0,-.05,.15,.1,.05,-.1,-.2,0,.05,-.15,-.25,-.05,0,.1,-.1,.05,-.3,-.05,.1,.15,-.2,.05,-.1,0,-.05];
const exprValues=[
[0,1,.5,1.5,0,1,.5,-1,1,.5,0,1,1.5,.5,1,0,.5,1,-.5,1,.5,1.5,0,1,.5,0,1,1.5,0,.5,1,.5,-3,1,.5,1,0,1,1.5,.5,0,1,-1,.5,1.5,1,0,.5,1,.5,1,.5,0,1.5,1,.5,0,1,0,.5,1,1.5,.5,-.5,1,0,1.5,.5,1,1.5,.5,1,0,.5,1,-2,.5,1,0,1,.5,1.5,0,.5,1,.5,0,1,1.5,.5,0,1,.5,1,-1,.5,1,0,.5,1],
[.5,0,.5,1,0,1.5,-1,.5,1,0,1,.5,1.5,.5,0,1,.5,.5,-.5,1,.5,1.5,0,1,.5,-3,1,0,1.5,.5,1,0,.5,1,1,.5,1,0,.5,1.5,1,.5,0,1,.5,1.5,-1,0,.5,1,1.5,.5,0,1,.5,1,1,0,.5,1,1.5,.5,1,0,.5,1,-2,.5,0,1,.5,1,0,1,.5,0,1.5,.5,1,-.5,.5,1,0,.5,1.5,.5,0,1,-1,.5,1,.5,0,1,.5,1.5,0,.5,1,.5],
[1,0,1.5,.5,1,0,.5,1.5,1,.5,-.5,1,.5,1,0,1.5,.5,1,1.5,0,.5,1,.5,1.5,1,0,.5,1.5,.5,1,-1,.5,1,.5,0,1,1.5,.5,1,0,.5,1,1.5,.5,1,0,1,.5,1.5,0,.5,1,1,.5,-2,1.5,1,.5,0,1,.5,1.5,1,0,.5,1,1,.5,1.5,0,1,.5,.5,1,-1,.5,1.5,0,1,.5,0,1,.5,1.5,.5,0,1,.5,1,1.5,0,.5,-.5,1,.5,1,0,1.5,.5,1],
[.5,1,.5,0,1,1,.5,0,1,.5,1,-1,.5,1,1.5,.5,0,1,.5,1,.5,0,1.5,1,.5,1,0,.5,1,1.5,.5,0,1,.5,1,.5,0,1,1.5,.5,1,-2,.5,1,.5,1.5,0,1,.5,1,-.5,.5,1,1.5,.5,1,0,.5,1,.5,1.5,0,1,.5,0,1,1.5,.5,1,0,.5,1,.5,0,1,-1,.5,1,.5,0,1,1.5,.5,0,1,.5,.5,1,0,1.5,.5,1,0,.5,1,.5,-.5,1,.5,0],
[0,.5,1,-.5,.5,1,0,1.5,.5,.5,-1,1,0,.5,1,.5,0,.5,1.5,-.5,1,.5,0,.5,1,1.5,0,.5,-2,1,.5,0,1,.5,.5,1.5,0,.5,1,-.5,.5,1,0,1.5,.5,0,1,.5,1,0,.5,-1,1,.5,1.5,0,.5,1,0,.5,.5,1,1.5,0,-.5,1,.5,0,1,.5,1.5,0,.5,1,-1,.5,0,1,.5,.5,0,1.5,.5,-.5,1,0,.5,1,.5,0,1,-1.5,.5,.5,0,1,1.5,0,.5,1],
[.5,1,0,1,.5,0,-1,.5,1,.5,1,0,1,.5,-2,1,.5,0,1,.5,1.5,.5,0,1,.5,-1,1,.5,.5,0,1,1,.5,0,1,.5,-.5,1,.5,1.5,0,.5,1,0,.5,1,-1,.5,1,.5,0,1,1.5,.5,0,1,.5,.5,0,1,1.5,.5,0,1,.5,-.5,1,.5,0,1.5,1,.5,-3,1,.5,0,1,.5,1,0,.5,1.5,.5,0,1,.5,-1,1,.5,0,1,.5,1.5,.5,0,1,.5,1,0,.5],
[1,1.5,.5,-.5,1,0,.5,1.5,1,-1,.5,1,.5,1.5,0,.5,1,.5,-1,1,1.5,.5,0,1,.5,1,1.5,0,.5,1,-.5,.5,1.5,1,0,.5,1,.5,1.5,-3,1,.5,-1,1,.5,1.5,0,1,.5,1,0,.5,1.5,1,.5,0,1,1.5,.5,-.5,1,.5,1,0,1.5,.5,1,0,.5,1.5,1,.5,0,1,.5,-1,1.5,.5,1,0,.5,1,1.5,.5,0,1,.5,-.5,1,1.5,.5,0,1,.5,1,0,1.5,.5,1,0],
[.5,1,0,.5,1.5,1,-3,.5,1,0,.5,1,1.5,0,.5,1,-1,.5,1,1.5,0,.5,1,.5,1,-.5,.5,1.5,1,0,.5,1,.5,0,1,1.5,.5,-1,1,.5,0,1,.5,1.5,.5,0,1,.5,1,-1,.5,1.5,1,0,.5,1,.5,1.5,0,1,.5,-.5,1,.5,1,0,1.5,.5,1,0,.5,1,-2,.5,1,0,.5,1.5,1,.5,0,1,.5,-1,.5,1,1.5,0,.5,1,.5,0,1,1.5,.5,-.5,1,.5,0,1],
[1,.5,1.5,0,1,.5,-3,1,.5,1.5,.5,0,1,.5,-.5,1,1.5,.5,0,1,.5,1,-2,.5,1,1.5,.5,0,1,.5,1.5,-.5,1,.5,1,0,.5,1.5,1,0,.5,1,-1,.5,1,.5,1.5,0,1,.5,1,.5,-.5,1.5,1,.5,0,1,1.5,.5,1,0,.5,1,1.5,-1,.5,1,.5,0,1,.5,1,-3,.5,1.5,0,1,.5,1,.5,0,1.5,.5,1,-.5,.5,1,0,1.5,.5,1,.5,0,1,-1,.5,1.5,.5,1],
[.5,-1,1,.5,0,-.5,1,.5,1.5,-3,.5,1,.5,0,-1,1,1.5,.5,0,1,-3,.5,1,.5,.5,-.5,1,.5,1.5,-1,.5,1,0,.5,1,-2,.5,1,.5,0,1.5,-.5,1,.5,-1,.5,1,0,.5,1.5,1,-3,.5,.5,1,0,-.5,1,.5,1.5,-1,.5,1,.5,0,-.5,1,.5,-1,1,.5,0,.5,1,-2,.5,1.5,0,.5,1,-1,.5,.5,1,0,-.5,1,.5,1.5,0,-3,1,.5,.5,1,0,-1,.5,1,.5],
[0,-.5,.5,-1,0,-.5,-3,0,-.5,.5,-1,-.5,0,-1.5,-.5,1,0,-1,-.5,0,-2,-.5,.5,0,-1,-.5,0,1.5,-1.5,-.5,0,-.5,-1,.5,0,-3,-.5,0,-1,.5,-.5,0,-1.5,0,-.5,1,-1,-.5,0,-2,.5,-.5,0,-1,-.5,.5,0,-1.5,-.5,0,-1,1,-.5,0,-3,-.5,.5,0,-1,-.5,0,.5,-1,0,-.5,1.5,-1,0,-.5,-2,.5,0,-1,-.5,0,.5,-1.5,-.5,0,-1,.5,0,-.5,-3,0,.5,-1,-.5,0,-1],
[-.5,0,.5,-1,.5,1.5,-.5,0,.5,-1,2,0,-.5,.5,-1,0,1,-.5,.5,0,2.5,-1,0,.5,-.5,1,0,-1,.5,0,1.5,-.5,.5,-2,0,.5,1,-.5,0,-1,.5,1.5,0,-.5,1,-1,.5,0,.5,-.5,3,0,-1,.5,0,1,-.5,.5,0,-1,1.5,0,.5,-.5,0,1,-2,.5,0,-.5,1,.5,-1,0,.5,2,-.5,0,1,-1,.5,0,-.5,.5,1.5,-1,0,.5,-.5,0,1,-2,.5,0,-1,.5,2,0,-.5,.5],
[0,-3,.5,-.5,1,0,-1,.5,-.5,0,1,-1.5,.5,0,-.5,1,-1,0,.5,-.5,0,1.5,-1,.5,0,-.5,.5,-2,0,1,-.5,.5,-1.5,0,.5,-.5,1,0,-1,.5,-.5,0,1,-1,.5,0,-.5,.5,-3,0,1,-.5,.5,0,-1,.5,-.5,1,0,-1,.5,0,-.5,1,-1.5,.5,0,-.5,.5,-1,0,1,-.5,0,.5,-2,0,1,-.5,0,-1,.5,0,1.5,-.5,-1,0,.5,-.5,0,1,-1.5,.5,0,-1,.5,-.5,0,1,-1],
[-1,0,-.5,.5,-1,0,.5,-1.5,0,-.5,.5,-1,0,-.5,1,-1,0,.5,-.5,-3,0,.5,-.5,0,-1,.5,0,-.5,-1,.5,0,1,-1.5,0,-.5,.5,-1,0,.5,-.5,0,-1,1,-.5,0,.5,-1.5,0,-.5,.5,-1,0,-.5,1,0,-2,.5,-.5,0,-1.5,.5,0,-.5,-1,.5,0,1,-.5,0,-1,.5,-.5,0,-1,.5,0,-3,.5,-.5,0,1,-1,0,-.5,.5,-1.5,0,.5,-.5,0,-1,1,0,-.5,.5,-1,0,-.5,.5,-1],
[.5,-1,1.5,.5,-1,0,2,-.5,.5,-1,1,.5,-1.5,.5,0,2.5,-1,.5,0,-.5,1,-1,.5,1.5,-.5,0,.5,-1,1,.5,0,-1.5,.5,1,-.5,.5,0,-3,1.5,.5,-.5,0,3,-1,.5,0,-1.5,.5,1,-.5,0,.5,-1,1,.5,0,-.5,1.5,-1,.5,0,1,-.5,-1,.5,0,2,-1.5,.5,0,.5,-1,.5,1,-.5,0,1.5,-1,.5,0,-.5,2,.5,-1,0,.5,1,-1.5,0,.5,-.5,1,0,-1,.5,2.5,-.5,0,.5,-1],
[0,-.5,-3,0,.5,-.5,-1,0,-3,0,-.5,.5,0,-1,-.5,0,.5,-2,-.5,0,-1,0,.5,-.5,-3,0,-.5,0,.5,-1,-.5,0,-2,.5,0,-.5,-1,0,.5,-.5,0,-3,0,-.5,.5,-1,0,-.5,0,-2,.5,0,-.5,-1,0,.5,-.5,-3,0,-.5,.5,0,-1,-.5,0,-2,.5,0,-.5,-1,0,.5,-.5,0,-3,.5,0,-.5,-1,0,.5,-2,0,-.5,.5,0,-1,-.5,0,-3,.5,0,-.5,-1,0,.5,-.5,0,-2,0],
[.5,-1,-.5,1,-1,0,-.5,1.5,-1,0,.5,-.5,-3,.5,1,-.5,0,-1,.5,-.5,1,-1,0,.5,-.5,-1.5,1,0,-.5,.5,-1,0,1.5,-.5,-1,.5,0,-.5,1,-1.5,0,.5,-.5,-1,1,0,-.5,.5,-1,1.5,0,-.5,-1,.5,0,1,-.5,-1.5,0,.5,-1,-.5,1,0,-1,.5,-.5,1.5,-1,0,.5,1,-.5,-1,0,.5,-2,1,-.5,0,.5,-1,.5,0,1.5,-.5,-1,0,.5,-.5,1,-1.5,0,.5,-1,.5,0,1,-.5,-1],
[-.5,0,-1,.5,-2,1,-.5,0,-1,-.5,.5,0,-1.5,-.5,.5,0,-1,3,-.5,0,-1,.5,-.5,-1.5,0,.5,-1,-.5,0,.5,-2,0,-.5,.5,-1,0,-.5,1,-1,0,-.5,.5,-1.5,0,-.5,-1,.5,0,-.5,-2,.5,0,-1,-.5,.5,0,-1,-.5,1,0,-1.5,-.5,.5,0,-1,-.5,3,0,-1,-.5,.5,0,-1,.5,-.5,0,-2,.5,0,-1,-.5,1,0,-1.5,-.5,.5,0,-1,.5,0,-.5,-1,0,1,-.5,-2,.5,0,-1,-.5],
[-.5,-1,.5,-1.5,0,-.5,.5,-1,0,-1.5,-.5,.5,-1,0,-.5,-1,.5,0,-1.5,-.5,1,-1,0,-.5,-1,.5,0,-1.5,-.5,0,-1,.5,-.5,-1,0,.5,-3,-.5,0,-1,.5,-.5,-1,0,-1.5,.5,-.5,0,-1,-.5,.5,-1.5,0,-.5,-1,.5,0,-1,-.5,-1.5,.5,0,-.5,-1,0,.5,-1.5,-.5,0,-1,-.5,-1,.5,0,-1.5,-.5,1,-1,0,-.5,.5,-1,0,-1.5,.5,-.5,0,-1,-.5,0,.5,-1.5,-.5,-1,0,.5,-1,-.5,0,-1.5],
[-.5,.5,0,-1,-.5,1,-1.5,-.5,.5,-1,0,-.5,1,-1,-3,-.5,0,.5,-1,-.5,1.5,-1.5,0,-.5,-1,.5,-.5,-1.5,0,1,-1,-.5,-3,.5,-.5,0,-1,-.5,1,-1.5,0,-.5,-1,.5,-.5,-2,0,-1,.5,-.5,-1,0,1,-1.5,-.5,0,-1,.5,-.5,-3,0,-1,1,-.5,-2,-.5,0,.5,-1,-.5,-1.5,1,0,-1,-.5,.5,-1.5,0,-.5,1,-1,-.5,0,-3,.5,-.5,-1,0,1,-1.5,-.5,0,.5,-1,-.5,-1.5,0,1,-.5,-1]];
const exprControl=[
[-3.3,-3.6,-3.1,-3.4,-3.5,-3.2],[-3.4,-3.2,-3.6,-3.3,-3.1,-3.5],[-3.2,-3.5,-3.4,-3.1,-3.6,-3.3],[-3.5,-3.3,-3.1,-3.6,-3.2,-3.4],[-3.3,-3.4,-3.6,-3.2,-3.5,-3.1],[-3.6,-3.1,-3.3,-3.5,-3.4,-3.2],[-3.2,-3.6,-3.4,-3.3,-3.1,-3.5],[-3.4,-3.3,-3.5,-3.1,-3.6,-3.2],[-3.5,-3.2,-3.3,-3.6,-3.4,-3.1],[-3.1,-3.5,-3.4,-3.2,-3.3,-3.6],
[3,3.6,2.8,3.4,3.1,2.5],[3.4,2.9,3.6,3.2,3.5,3],[3.6,3.3,3.5,2.9,3.4,3.2],[3.3,3.6,3.1,3.5,3,2.8],[3.5,3,3.4,3.6,3.2,2.6],[3.4,3.6,3.2,3.5,3.3,3],[3.6,3.2,3.5,3.3,3,3.4],[3.3,3.5,3.6,3,3.4,3.1],[3.5,3.4,3.2,3.6,3.1,2.7],[3.6,3.3,3.5,3.2,3.4,2.6]];
const exprColorValues=[-3,-2,-1,0,1,2,3];
const exprColorHex=['#0a9fb4','#5cb8cc','#c0dfe8','#fbfbfb','#f8d4cf','#f0a79d','#e35a42'];

/* ---------- panel c data ---------- */
const boxGroups=['Control','CRC'];
const boxQ1=[0.737,0.564];
const boxMedian=[0.80,0.661];
const boxQ3=[0.916,0.762];
const boxWhiskerLow=[0.62,0.283];
const boxWhiskerHigh=[1.17,1.05];
const boxOutliers=[[],[1.219,1.158,1.14,1.127,1.064,0.22]];
const boxColors=['#9f9cc9','#ffaaa5'];
const boxYTicks=[0.25,0.5,0.75,1.0,1.25];

/* ---------- panel d data ---------- */
const survivalXTicks=[0,1000,2000,3000,4000];
const survivalYTicks=[0,0.25,0.5,0.75,1];
const highTimes=[0,40,80,120,160,200,240,285,320,360,393,430,470,500,560,620,680,760,861,960,1095,1120,1185,1286,1300,1330,1420,1438,1492,1503,1582,1654,1672,1708,1870,1888,1924,1996,2004,2130,2140,3038,3038,4195];
const highSurv=[1,0.993,0.985,0.975,0.965,0.955,0.945,0.93,0.915,0.9,0.886,0.875,0.866,0.861,0.848,0.835,0.826,0.815,0.804,0.795,0.785,0.759,0.741,0.741,0.71,0.676,0.663,0.628,0.626,0.569,0.553,0.546,0.532,0.512,0.512,0.484,0.466,0.466,0.435,0.435,0.405,0.405,0.244,0.244];
const lowTimes=[0,50,100,140,200,250,285,340,393,450,510,573,640,717,771,861,1077,1106,1186,1222,1276,1355,1564,1571,1737,1744,1841,1852,2472,2472,2530,2530,2818,2818,4195];
const lowSurv=[1,0.99,0.975,0.964,0.95,0.94,0.933,0.918,0.905,0.897,0.89,0.886,0.876,0.868,0.844,0.831,0.827,0.804,0.793,0.765,0.749,0.741,0.741,0.72,0.72,0.697,0.697,0.671,0.671,0.637,0.637,0.599,0.599,0.554,0.554];
const highCensor=[30,60,100,140,170,200,230,260,290,320,350,370,400,420,440,460,480,490,510,520,535,550,570,585,600,620,635,650,680,700,715,730,760,790,805,820,850,865,880,900,920,935,950,965,980,1000,1015,1030,1045,1060,1075,1090,1120,1180,1290,1310,1330,1370,1400,1430,1450,1480,1520,1600,1640,1700,1770,1800,1830,1870,1890,1950,1990,2130,2169,2267,2368,2418,2501,2591,2627,2789,3323,3928];
const lowCensor=[40,90,130,170,210,250,290,330,360,375,390,405,420,435,450,465,480,495,510,525,540,555,570,585,600,615,630,645,660,675,690,720,750,780,810,840,870,885,900,915,930,945,960,975,990,1005,1020,1035,1050,1065,1090,1130,1170,1210,1250,1280,1350,1420,1440,1460,1530,1550,1570,1640,1670,1700,1800,1870,1890,1920,1950,2004,2303,2368,2591,2681,2890,2987,3557,3640,3645,3850,3980,4060,4130];
const riskTimes=[0,1000,2000,3000,4000];
const riskHigh=[321,110,17,5,1];
const riskLow=[323,106,23,10,4];

/* ---------- panel e data ---------- */
const moduleNames=['MEpink','MEmagenta','MEbrown','MEred','MEyellow','MEblue','MEgreen','MEblack','MEturquoise'];
const moduleColors=['#fde8eb','#9770a8','#ce737c','#ff5f7e','#f3d08a','#8fd9e5','#1fb53f','#a09090','#00c1bb'];
const moduleCorr=[0.1494,0.08384,0.566,0.6938,0.5775,0.1674,0.1472,-0.1679,0.04695];
const modulePBase=['0.000201','0.037','1.13×10','3.33×10','2.99×10','3.29×10','0.000219','3.29×10','0.233'];
const modulePExp=['','','-55','-93','-58','-5','','-5',''];
const corrTicks=[1,0.5,0,-0.5,-1];

/* ---------- panel f data ---------- */
const scatterXTicks=[0.3,0.4,0.5,0.6,0.7,0.8,0.9];
const scatterYTicks=[0.2,0.3,0.4,0.5,0.6,0.7];
const memberX=[.23,.286,.331,.359,.379,.398,.401,.406,.416,.427,.445,.447,.467,.465,.477,.473,.485,.492,.477,.482,.486,.494,.501,.506,.496,.492,.507,.5,.501,.492,.506,.504,.506,.517,.526,.539,.553,.552,.54,.548,.563,.553,.543,.583,.591,.599,.61,.611,.613,.591,.656,.694,.664,.721,.64,.631,.794,.808,.778,.757,.747,.929,.936,.854,.941,.943,.93,.921,.897,.9,.857,.849,.835,.871,.738,.757,.784,.784,.775,.733,.737,.782,.799,.815,
.54,.55,.56,.57,.58,.59,.6,.61,.62,.55,.57,.58,.59,.6,.61,.62,.53,.54,.56,.57,.58,.59,.53,.55,.53,.54,.52,.52,.56,.57,.59,.6,.56,.58,.6,.59,.57,.61,.63,.55,
.63,.64,.65,.66,.67,.68,.64,.65,.66,.67,.68,.69,.63,.64,.65,.66,.67,.68,.69,.7,.71,.72,.7,.69,.72,.71,.67,.66,.65,.63,.64,.62,.62,.66,.68,.69,.65,.66,.67,.68,.67,.66,.64,.65,.7,.7,.71,.72,.73,.69,.68,.73,.74,
.7,.71,.72,.73,.74,.75,.76,.77,.78,.79,.72,.73,.74,.75,.76,.77,.78,.79,.8,.71,.72,.73,.74,.75,.76,.77,.78,.79,.8,.81,.74,.75,.76,.77,.78,.79,.8,.81,.82,.72,.71,.7,.73,.76,.77,.78,.79,.8,.81,.82,.83,.75,.76,.74,.75,.73,.72,.77,.78,
.78,.79,.8,.81,.82,.83,.84,.85,.86,.87,.88,.79,.8,.81,.82,.83,.84,.85,.86,.87,.88,.89,.78,.8,.81,.82,.83,.84,.85,.86,.87,.88,.89,.9,.82,.83,.84,.85,.86,.87,.88,.89,.9,.91,.84,.85,.86,.87,.88,.89,.9,.91,.92,.85,.86,.87,.88,.89,.9,.91,.92,.93,.91,.9,.86,.8,.81,.82,.83,.84,.79,.8,.81,.82,.83,.84,.85,.78,.77,.76,.78,.79,
.775,.785,.795,.805,.815,.825,.835,.845,.855,.865,.775,.785,.795,.805,.815,.825,.835,.845,.855,.865,.755,.765,.775,.785,.795,.805,.815,.825,.835,.745,.755,.765,.775,.785,.795,.805,.815,.735,.745,.755,.765,.775,.785,.795,.805,.655,.665,.675,.685,.695,.705,.715,.725,.575,.585,.595,.605,.615,.565,.575,.585,
.803,.812,.797,.826,.789,.818,.834,.808,.773,.841,.793,.822,.847,.779,.811,.837,.801,.769,.828,.853,.786,.816,.843,.799,.762,.831,.857,.791,.821,.848,.806,.776,.839,.863,.784,.814,.851,.796,.768,.829,.859,.788,.824,.846,.807,.772,.836,.868,.781,.819,.854,.792,.764,.833,.861,.787,.827,.849,.804,.758,.838,.873,.783,.817,.856,.798,.752,.832,.866,.794,.823,.844,.809,.766,.842,.871,.782,.813,.858,.746,.741,.753,.736,.749,.757,.731,.744,.759,.727,.738,.751,.723,.734,.747,.719,.742,.755,.716,.729,.761,.712,.733,.707,.722,.702,.714,.697,.709,.692,.704,.687,.699,.682,.694,.677,.689,.672,.684,.667,.679,.662,.674,.657,.669,.652,.664,.647,.659,.642,.654,.637,.649,.632,.644,.627,.639,.622,.634,.617,.629,.612,.624,.607,.596,.587,.578,.569,.561,.592,.583,.574,.566,.558,.603,.598,.589,.581,.572,.564,.556];
const memberGS=[.21,.222,.23,.24,.239,.25,.177,.328,.297,.349,.32,.316,.3,.26,.324,.208,.228,.25,.267,.282,.283,.265,.278,.294,.328,.343,.317,.316,.363,.395,.404,.418,.461,.457,.264,.279,.278,.25,.478,.473,.468,.444,.438,.466,.484,.52,.543,.498,.491,.289,.295,.308,.612,.659,.563,.552,.716,.694,.686,.677,.643,.731,.714,.716,.667,.66,.633,.613,.547,.574,.503,.494,.478,.523,.343,.374,.372,.389,.383,.386,.363,.416,.434,.453,
.36,.35,.37,.34,.36,.38,.37,.35,.35,.39,.38,.41,.4,.39,.41,.39,.39,.41,.33,.32,.32,.31,.37,.32,.33,.34,.38,.35,.4,.42,.42,.43,.35,.35,.35,.34,.36,.38,.38,.37,
.42,.44,.46,.45,.44,.46,.4,.38,.37,.36,.35,.37,.46,.48,.5,.48,.47,.5,.48,.46,.43,.41,.4,.42,.39,.37,.41,.42,.42,.4,.36,.42,.45,.52,.52,.53,.45,.44,.46,.44,.48,.46,.46,.44,.43,.5,.48,.46,.44,.45,.39,.4,.44,
.52,.5,.49,.52,.5,.48,.47,.46,.45,.44,.54,.55,.54,.53,.52,.51,.5,.49,.48,.53,.51,.5,.56,.56,.55,.54,.53,.52,.51,.5,.59,.58,.58,.57,.56,.55,.54,.53,.49,.57,.58,.59,.58,.61,.6,.59,.58,.57,.56,.52,.51,.51,.5,.47,.46,.47,.47,.48,.48,
.62,.61,.6,.59,.58,.57,.56,.55,.54,.54,.53,.64,.63,.62,.61,.6,.59,.58,.57,.57,.56,.56,.65,.66,.65,.64,.63,.62,.61,.6,.6,.59,.59,.58,.67,.66,.65,.64,.63,.63,.62,.62,.62,.61,.68,.67,.66,.66,.65,.65,.65,.64,.64,.7,.69,.7,.69,.7,.68,.68,.67,.68,.7,.7,.71,.58,.57,.56,.55,.54,.57,.55,.54,.54,.53,.52,.52,.58,.62,.63,.67,.66,
.565,.575,.585,.595,.605,.615,.625,.635,.645,.655,.535,.545,.555,.565,.575,.585,.595,.605,.615,.625,.505,.515,.525,.535,.545,.555,.565,.575,.585,.525,.535,.545,.555,.565,.575,.585,.595,.475,.485,.495,.505,.515,.525,.535,.545,.425,.435,.445,.455,.465,.475,.485,.495,.355,.365,.375,.385,.395,.405,.415,.425,
.593,.571,.612,.553,.627,.588,.561,.634,.576,.548,.606,.643,.532,.598,.566,.617,.629,.541,.582,.556,.609,.572,.538,.651,.591,.564,.621,.528,.603,.639,.551,.586,.613,.544,.567,.624,.578,.536,.646,.599,.559,.631,.524,.587,.618,.546,.574,.636,.529,.601,.563,.623,.539,.592,.657,.568,.534,.608,.641,.519,.581,.626,.553,.596,.648,.526,.573,.611,.543,.585,.638,.558,.604,.521,.577,.629,.547,.595,.653,
.512,.497,.524,.486,.534,.508,.479,.541,.493,.519,.468,.528,.502,.476,.537,.488,.513,.463,.522,.495,.472,.531,.483,.507,.459,.516,.541,.474,.498,.527,.466,.509,.482,.533,.457,.491,.462,.504,.452,.478,.448,.489,.441,.471,.456,.483,.437,.465,.429,.451,.423,.444,.418,.436,.412,.427,.407,.421,.403,.415,.398,.409,.393,.404,.387,.398,.382,.391,.377,.384,.372,.379,.366,.373,.361,.368,.356,.363,.384,.371,.357,.349,.338,.377,.365,.353,.344,.336,.392,.381,.369,.358,.347,.339,.331];

/* ---------- helpers ---------- */
const NS='http://www.w3.org/2000/svg';
const $=id=>document.getElementById(id);
function add(parent,tag,attrs,txt){
  const n=document.createElementNS(NS,tag);
  for(const k in attrs)n.setAttribute(k,attrs[k]);
  if(txt!==undefined)n.textContent=txt;
  parent.appendChild(n);
  return n;
}
function hexToRgb(h){return [parseInt(h.slice(1,3),16),parseInt(h.slice(3,5),16),parseInt(h.slice(5,7),16)];}
function ramp(values,hexes,v){
  if(v<=values[0])return hexes[0];
  for(let i=1;i<values.length;i++){
    if(v<=values[i]){
      const t=(v-values[i-1])/(values[i]-values[i-1]);
      const a=hexToRgb(hexes[i-1]),b=hexToRgb(hexes[i]);
      return 'rgb('+a.map((c,j)=>Math.round(c+(b[j]-c)*t)).join(',')+')';
    }
  }
  return hexes[hexes.length-1];
}
const fmtMinus=s=>String(s).replace('-','−');

/* ---------- panel a ---------- */
const vx=v=>806+61.75*v;
const vy=v=>1364-517*Math.log10(v+1);
function band(parent,levels,leftArr,rightArr,fill,opacity,name,filter){
  const pts=[];
  levels.forEach((l,i)=>pts.push(vx(leftArr[i])+','+vy(l)));
  for(let i=levels.length-1;i>=0;i--)pts.push(vx(rightArr[i])+','+vy(levels[i]));
  const p=add(parent,'polygon',{points:pts.join(' '),fill:fill,opacity:opacity});
  if(filter)p.setAttribute('filter','url(#'+filter+')');
  
  
}
const downEdgeMid=downMidLevels.map(()=>-0.7);
const downEdgeCore=downCoreLevels.map(()=>-0.7);
const upEdgeMid=upMidLevels.map(()=>0.7);
const upEdgeCore=upCoreLevels.map(()=>0.7);
band($('a-bands-down'),downMidLevels,downMidLeft,downEdgeMid,'#5ec2ee',0.36,'down-mid-density','softMid');
band($('a-bands-down'),downCoreLevels,downCoreLeft,downEdgeCore,'#5ec2ee',0.85,'down-core-density','softCore');
band($('a-bands-up'),upMidLevels,upEdgeMid,upMidRight,'#ff7f7f',0.36,'up-mid-density','softMid');
band($('a-bands-up'),upCoreLevels,upEdgeCore,upCoreRight,'#ff7f7f',0.88,'up-core-density','softCore');
const aBands=$('a-bands');
band(aBands,grayLevels,grayLeftOuter,grayLeftInner,'#bdbdbd',1,'not-significant-left-arm');
band(aBands,grayLevels,grayRightInner,grayRightOuter,'#bdbdbd',1,'not-significant-right-arm');
band(aBands,blobLevels,blobLeft,blobRight,'#bdbdbd',1,'not-significant-base');
const aPoints=$('a-points');
notFC.forEach((x,i)=>{
  const c=add(aPoints,'circle',{cx:vx(x),cy:vy(notP[i]),r:6.7,fill:'#bdbdbd',opacity:.6});
  
  
});
downFC.forEach((x,i)=>{
  const c=add(aPoints,'circle',{cx:vx(x),cy:vy(downP[i]),r:6.7,fill:'#5ec2ee',opacity:.38});
  
  
});
upFC.forEach((x,i)=>{
  const c=add(aPoints,'circle',{cx:vx(x),cy:vy(upP[i]),r:6.7,fill:'#ff7f7f',opacity:.42});
  
  
});
const aAxes=$('a-axes');
volcanoXTicks.forEach(t=>{
  const l=add(aAxes,'line',{x1:vx(t),x2:vx(t),y1:1426,y2:1442,stroke:'#555','stroke-width':2.5});
  
  
  const s=add(aAxes,'text',{x:vx(t)-2,y:1490,'font-size':57,'text-anchor':'middle'},fmtMinus(t));
  
  
});
volcanoYTicks.forEach(t=>{
  const l=add(aAxes,'line',{x1:231,x2:251.5,y1:vy(t),y2:vy(t),stroke:'#555','stroke-width':2.5});
  
  
  const s=add(aAxes,'text',{x:223,y:vy(t)+20,'font-size':57,'text-anchor':'end'},t);
  
  
});

/* ---------- panel b ---------- */
const dy=v=>374-35.2*v;
const bDensity=$('b-density');
const ctrlX0=1886,crcX0=1998,crcX1=3307;
function lookup(profile,step,d){
  const idx=d/step;
  const i=Math.floor(idx);
  if(i>=profile.length-1)return profile[profile.length-1];
  return profile[i]+(profile[i+1]-profile[i])*(idx-i);
}
function drawDensity(spreads,profile,step,x0,x1,label){
  const w=(x1-x0)/spreads.length;
  spreads.forEach((sp,j)=>{
    densityBins.forEach((b,k)=>{
      const top=Math.max(dy(b+0.125),199.5),bot=Math.min(dy(b-0.125),552);
      const val=lookup(profile,step,Math.abs(b)/sp);
      if(val<0.001)return;
      const r=add(bDensity,'rect',{x:x0+j*w,y:top,width:w+.5,height:bot-top+.5,fill:ramp(densityColorValues,densityColorHex,val),'shape-rendering':'crispEdges'});
      
      
    });
  });
}
drawDensity(controlSpread,controlProfile,0.25,ctrlX0,crcX0,'control-density-cell');
drawDensity(crcSpread,crcProfile,0.25,crcX0,crcX1,'crc-density-cell');
const bDashes=$('b-dashes');
function drawDashes(values,x0,x1,half,stroke,width,label){
  const w=(x1-x0)/values.length;
  values.forEach((v,j)=>{
    const x=x0+(j+.5)*w;
    const tilt=(j%3-1)*2.5;
    const d=add(bDashes,'line',{x1:x-tilt,x2:x+tilt,y1:dy(v)-half,y2:dy(v)+half,stroke:stroke,'stroke-width':width});
    
    
  });
}
drawDashes(crcUpperQ,crcX0,crcX1,8,'#000',4.5,'crc-upper-quantile');
drawDashes(crcUpperQ2,crcX0+4,crcX1,7,'#000',4.5,'crc-q75-dash');
drawDashes(crcMidQ,crcX0+2,crcX1,7,'#111',4.5,'crc-median-dash');
drawDashes(crcLowerQ2,crcX0+7,crcX1,7,'#000',4.5,'crc-q25-dash');
drawDashes(crcLowerQ,crcX0,crcX1,8,'#000',4.5,'crc-lower-quantile');
drawDashes(controlUpperQ,ctrlX0,crcX0,7,'#111',4.5,'control-upper-quantile');
drawDashes(controlLowerQ,ctrlX0,crcX0,7,'#111',4.5,'control-lower-quantile');
drawDashes(controlMean,ctrlX0,crcX0,6,'#b5503f',5,'control-mean');
const bAxis=$('b-density-axis');
densityYTicks.forEach(t=>{
  const l=add(bAxis,'line',{x1:1869,x2:1886,y1:dy(t),y2:dy(t),stroke:'#222','stroke-width':2.5});
  
  
  const s=add(bAxis,'text',{x:1855,y:dy(t)+16,'font-size':44,'text-anchor':'end'},fmtMinus(t));
  
  
});
const heatTop=657,heatBottom=1361,rowH=(heatBottom-heatTop)/geneNames.length;
const bHeat=$('b-heat'),bGenes=$('b-genes');
geneNames.forEach((g,r)=>{
  const y=heatTop+r*rowH;
  const ctrl=exprControl[r],cw=(crcX0-ctrlX0)/ctrl.length;
  ctrl.forEach((v,j)=>{
    const c=add(bHeat,'rect',{x:ctrlX0+j*cw,y:y,width:cw+.5,height:rowH+.5,fill:ramp(exprColorValues,exprColorHex,v),'shape-rendering':'crispEdges'});
    
    
  });
  const row=exprValues[r],w=(crcX1-crcX0)/row.length;
  row.forEach((v,j)=>{
    const c=add(bHeat,'rect',{x:crcX0+j*w,y:y,width:w+.5,height:rowH+.5,fill:ramp(exprColorValues,exprColorHex,v),'shape-rendering':'crispEdges'});
    
    
  });
  const t=add(bGenes,'text',{x:3320,y:y+rowH/2+14,'font-size':39},g);
  
  
});

/* ---------- panel c ---------- */
const cy=v=>2861-970*(v-0.25);
const cxPos=i=>799+231*i;
const cBoxes=$('c-boxes'),cAxes=$('c-axes');
boxGroups.forEach((g,i)=>{
  const x=cxPos(i),hw=86.5;
  const wh=add(cBoxes,'line',{x1:x,x2:x,y1:cy(boxWhiskerHigh[i]),y2:cy(boxQ3[i]),stroke:'#444','stroke-width':3.5});
  
  
  const wl=add(cBoxes,'line',{x1:x,x2:x,y1:cy(boxQ1[i]),y2:cy(boxWhiskerLow[i]),stroke:'#444','stroke-width':3.5});
  
  
  const b=add(cBoxes,'rect',{x:x-hw,y:cy(boxQ3[i]),width:2*hw,height:cy(boxQ1[i])-cy(boxQ3[i]),fill:boxColors[i],stroke:'#444','stroke-width':3.5});
  
  
  const m=add(cBoxes,'line',{x1:x-hw,x2:x+hw,y1:cy(boxMedian[i]),y2:cy(boxMedian[i]),stroke:'#444','stroke-width':3.5});
  
  
  boxOutliers[i].forEach(o=>{
    const d=add(cBoxes,'ellipse',{cx:x,cy:cy(o),rx:8,ry:7.5,fill:'#333'});
    
    
  });
  const tk=add(cAxes,'line',{x1:x,x2:x,y1:2937,y2:2954,stroke:'#444','stroke-width':2.5});
  
  
  const lb=add(cAxes,'text',{x:x+10,y:2999,'font-size':56,'text-anchor':'middle'},g);
  
  
});
boxYTicks.forEach(t=>{
  const tk=add(cAxes,'line',{x1:644,x2:661.6,y1:cy(t),y2:cy(t),stroke:'#444','stroke-width':2.5});
  
  
  const lb=add(cAxes,'text',{x:632,y:cy(t)+19,'font-size':54,'text-anchor':'end'},t.toFixed(2));
  
  
});

/* ---------- panel d ---------- */
const sx=t=>2045.5+0.2655*t;
const sy=v=>2528-698*v;
function stepPath(times,surv){
  let d='M'+sx(times[0])+' '+sy(surv[0]);
  for(let i=1;i<times.length;i++){
    d+='H'+sx(times[i])+'V'+sy(surv[i]);
  }
  return d;
}
function survAt(times,surv,t){
  let s=surv[0];
  for(let i=0;i<times.length;i++){if(times[i]<=t)s=surv[i];else break;}
  return s;
}
const dCurves=$('d-curves');
const highCurve=add(dCurves,'path',{d:stepPath(highTimes,highSurv),fill:'none',stroke:'#f0243c','stroke-width':3});


const lowCurve=add(dCurves,'path',{d:stepPath(lowTimes,lowSurv),fill:'none',stroke:'#4a8acb','stroke-width':3});


highCensor.forEach(t=>{
  const v=survAt(highTimes,highSurv,t);
  const m=add(dCurves,'path',{d:'M'+(sx(t)-9)+' '+sy(v)+'h18M'+sx(t)+' '+(sy(v)-9)+'v18',stroke:'#f0243c','stroke-width':2.5,fill:'none'});
  
  
});
lowCensor.forEach(t=>{
  const v=survAt(lowTimes,lowSurv,t);
  const m=add(dCurves,'path',{d:'M'+(sx(t)-9)+' '+sy(v)+'h18M'+sx(t)+' '+(sy(v)-9)+'v18',stroke:'#4a8acb','stroke-width':2.5,fill:'none'});
  
  
});
const dAxes=$('d-axes');
survivalXTicks.forEach(t=>{
  const k=add(dAxes,'line',{x1:sx(t),x2:sx(t),y1:2564,y2:2580,stroke:'#111','stroke-width':3});
  
  
  const s=add(dAxes,'text',{x:sx(t)+(t?6:0),y:2628,'font-size':55.5,'text-anchor':'middle'},t);
  
  
});
survivalYTicks.forEach(t=>{
  const k=add(dAxes,'line',{x1:1976,x2:1992,y1:sy(t),y2:sy(t),stroke:'#111','stroke-width':3});
  
  
  const s=add(dAxes,'text',{x:1972,y:sy(t)+20,'font-size':55.5,'text-anchor':'end'},t.toFixed(2));
  
  
});
const dRisk=$('d-risk');
riskTimes.forEach((t,i)=>{
  const nudge=t===0?6:t===1000?8:t===2000?2:t===3000?-6:-5;
  const a=add(dRisk,'text',{x:sx(t)+nudge,y:2848,'font-size':50,'text-anchor':'middle'},riskHigh[i]);
  a.style.fill='#f0243c';
  
  
  const b=add(dRisk,'text',{x:sx(t)+(t===3000?2:nudge),y:2944,'font-size':50,'text-anchor':'middle'},riskLow[i]);
  b.style.fill='#4a8acb';
  
  
  const k=add(dRisk,'line',{x1:sx(t),x2:sx(t),y1:2979,y2:2994,stroke:'#333','stroke-width':3});
  
  
  const l=add(dRisk,'text',{x:sx(t)+6,y:3040,'font-size':55.5,'text-anchor':'middle'},t);
  
  
});

/* ---------- panel e ---------- */
const eTop=3340,eRow=151.55;
function corrColor(v){
  if(v>=0){
    const g=Math.round(255-205*v),b=Math.round(255-252*v);
    return 'rgb(255,'+g+','+Math.max(b,40)+')';
  }
  const a=-v;
  return 'rgb('+Math.round(255-300*a)+','+Math.round(255-140*a)+','+Math.round(255-50*a)+')';
}
const eCells=$('e-cells');
moduleNames.forEach((n,i)=>{
  const y=eTop+i*eRow;
  const strip=add(eCells,'rect',{x:809,y:y,width:61,height:eRow+.5,fill:moduleColors[i]});
  
  
  const cell=add(eCells,'rect',{x:877,y:y,width:894,height:eRow+.5,fill:corrColor(moduleCorr[i])});
  
  
  const lab=add(eCells,'text',{x:781,y:y+eRow/2+18,'font-size':50.5,'text-anchor':'end'},n);
  
  
  const val=add(eCells,'text',{x:1330,y:y+66,'font-size':52,'text-anchor':'middle'},fmtMinus(moduleCorr[i]));
  
  
  const p=add(eCells,'text',{x:1330,y:y+122,'font-size':52,'text-anchor':'middle'},'('+modulePBase[i]);
  
  
  if(modulePExp[i]){
    add(p,'tspan',{'font-size':28,dy:-20},modulePExp[i]);
    add(p,'tspan',{dy:20},')');
  }else{
    add(p,'tspan',{},')');
  }
});
const eBar=$('e-bar');
corrTicks.forEach(t=>{
  const y=3526-178*t;
  const k=add(eBar,'line',{x1:1818,x2:1826,y1:y,y2:y,stroke:'#111','stroke-width':2.5});
  
  
  const s=add(eBar,'text',{x:1876,y:y+13,'font-size':37,'text-anchor':'middle'},fmtMinus(t));
  
  
});

/* ---------- panel f ---------- */
const fx=v=>2391+1331*(v-0.3);
const fy=v=>4386-1352*(v-0.2);
const fPoints=$('f-points');
memberX.forEach((x,i)=>{
  const c=add(fPoints,'circle',{cx:fx(x),cy:fy(memberGS[i]),r:10,fill:'none',stroke:'#ee5f7d','stroke-width':4.5});
  
  
});
const fAxes=$('f-axes');
scatterXTicks.forEach(t=>{
  const k=add(fAxes,'line',{x1:fx(t),x2:fx(t),y1:4448,y2:4477,stroke:'#000','stroke-width':3.5});
  
  
  const s=add(fAxes,'text',{x:fx(t),y:4544,'font-size':50,'text-anchor':'middle'},t.toFixed(1));
  
  
});
scatterYTicks.forEach(t=>{
  const k=add(fAxes,'line',{x1:2232,x2:2261,y1:fy(t),y2:fy(t),stroke:'#000','stroke-width':3.5});
  
  
  const s=add(fAxes,'text',{transform:'translate(2196 '+fy(t)+') rotate(-90)','font-size':50,'text-anchor':'middle'},t.toFixed(1));
  
  
});
</script>
</body>
</html>
